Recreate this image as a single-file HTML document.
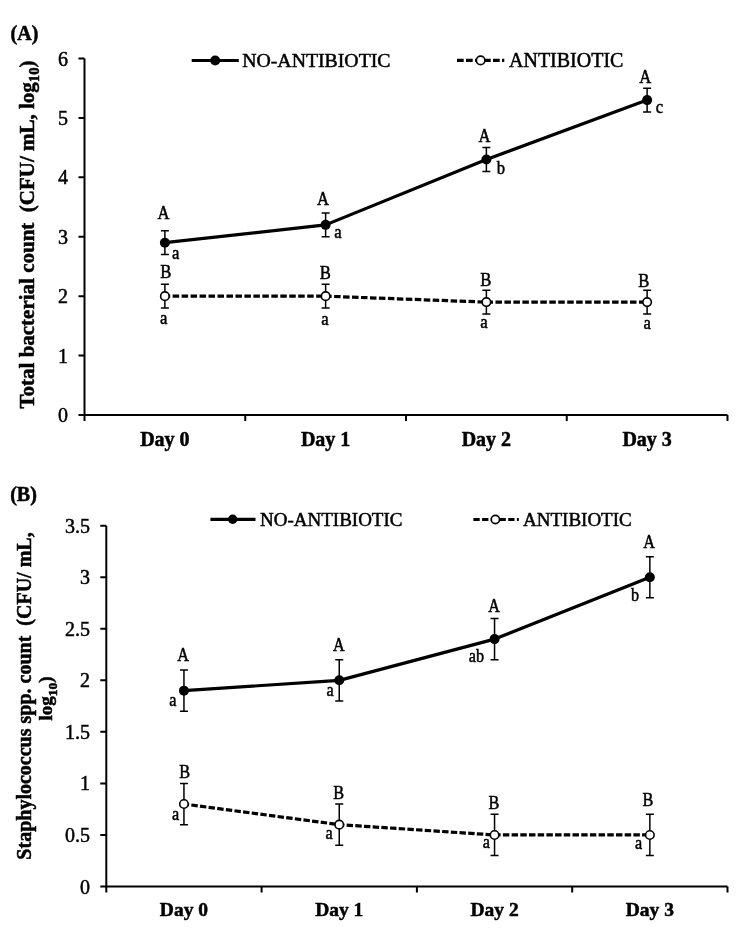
<!DOCTYPE html><html><head><meta charset="utf-8"><style>html,body{margin:0;padding:0;background:#fff;overflow:hidden;width:744px;height:945px;}svg{display:block;will-change:transform;filter:blur(0.35px);}text{font-family:"Liberation Serif",serif;fill:#000;white-space:pre;stroke:#000;stroke-width:0.5px;}</style></head><body>
<svg width="744" height="945" viewBox="0 0 744 945">
<rect width="744" height="945" fill="#fff"/>
<text x="10.6" y="39.5" font-size="20" font-weight="bold">(A)</text>
<text x="10.2" y="501.4" font-size="20" font-weight="bold">(B)</text>
<path d="M84.5 58.5V415H727.5" fill="none" stroke="#000" stroke-width="2"/>
<path d="M78.5 415H84.5M78.5 355.58H84.5M78.5 296.17H84.5M78.5 236.75H84.5M78.5 177.33H84.5M78.5 117.92H84.5M78.5 58.5H84.5M84.5 415V421M245.25 415V421M406 415V421M566.75 415V421M727.5 415V421" stroke="#000" stroke-width="2" fill="none"/>
<text x="68" y="422" text-anchor="end" font-size="20">0</text>
<text x="68" y="362.58" text-anchor="end" font-size="20">1</text>
<text x="68" y="303.17" text-anchor="end" font-size="20">2</text>
<text x="68" y="243.75" text-anchor="end" font-size="20">3</text>
<text x="68" y="184.33" text-anchor="end" font-size="20">4</text>
<text x="68" y="124.92" text-anchor="end" font-size="20">5</text>
<text x="68" y="65.5" text-anchor="end" font-size="20">6</text>
<text x="164.88" y="446.3" text-anchor="middle" font-size="20" font-weight="bold">Day 0</text>
<text x="325.62" y="446.3" text-anchor="middle" font-size="20" font-weight="bold">Day 1</text>
<text x="486.38" y="446.3" text-anchor="middle" font-size="20" font-weight="bold">Day 2</text>
<text x="647.12" y="446.3" text-anchor="middle" font-size="20" font-weight="bold">Day 3</text>
<polyline points="164.88,242.69 325.62,224.87 486.38,159.51 647.12,100.09" fill="none" stroke="#000" stroke-width="3.2" stroke-linejoin="round"/>
<path d="M164.88 230.81V254.58M160.88 230.81H168.88M160.88 254.58H168.88M325.62 212.98V236.75M321.62 212.98H329.62M321.62 236.75H329.62M486.38 147.62V171.39M482.38 147.62H490.38M482.38 171.39H490.38M647.12 88.21V111.98M643.12 88.21H651.12M643.12 111.98H651.12" stroke="#000" stroke-width="1.5" fill="none"/>
<circle cx="164.88" cy="242.69" r="5" fill="#000"/>
<circle cx="325.62" cy="224.87" r="5" fill="#000"/>
<circle cx="486.38" cy="159.51" r="5" fill="#000"/>
<circle cx="647.12" cy="100.09" r="5" fill="#000"/>
<polyline points="164.88,296.17 325.62,296.17 486.38,302.11 647.12,302.11" fill="none" stroke="#000" stroke-width="3.2" stroke-dasharray="6.5 2.47" stroke-dashoffset="1.2" stroke-linecap="butt"/>
<path d="M164.88 284.28V308.05M160.88 284.28H168.88M160.88 308.05H168.88M325.62 284.28V308.05M321.62 284.28H329.62M321.62 308.05H329.62M486.38 290.23V313.99M482.38 290.23H490.38M482.38 313.99H490.38M647.12 290.23V313.99M643.12 290.23H651.12M643.12 313.99H651.12" stroke="#000" stroke-width="1.5" fill="none"/>
<circle cx="164.88" cy="296.17" r="4.25" fill="#fff" stroke="#000" stroke-width="1.6"/>
<circle cx="325.62" cy="296.17" r="4.25" fill="#fff" stroke="#000" stroke-width="1.6"/>
<circle cx="486.38" cy="302.11" r="4.25" fill="#fff" stroke="#000" stroke-width="1.6"/>
<circle cx="647.12" cy="302.11" r="4.25" fill="#fff" stroke="#000" stroke-width="1.6"/>
<text transform="translate(163.5,218.5) scale(0.9,1)" text-anchor="middle" font-size="18.5">A</text>
<text transform="translate(175.7,258.6) scale(0.9,1)" text-anchor="middle" font-size="18.5">a</text>
<text transform="translate(165.7,278) scale(0.9,1)" text-anchor="middle" font-size="18.5">B</text>
<text transform="translate(163.7,324) scale(0.9,1)" text-anchor="middle" font-size="18.5">a</text>
<text transform="translate(323,205.3) scale(0.9,1)" text-anchor="middle" font-size="18.5">A</text>
<text transform="translate(337.9,238.4) scale(0.9,1)" text-anchor="middle" font-size="18.5">a</text>
<text transform="translate(325.2,279) scale(0.9,1)" text-anchor="middle" font-size="18.5">B</text>
<text transform="translate(325,325.3) scale(0.9,1)" text-anchor="middle" font-size="18.5">a</text>
<text transform="translate(484.5,142.3) scale(0.9,1)" text-anchor="middle" font-size="18.5">A</text>
<text transform="translate(501,174.3) scale(0.9,1)" text-anchor="middle" font-size="18.5">b</text>
<text transform="translate(485.9,286) scale(0.9,1)" text-anchor="middle" font-size="18.5">B</text>
<text transform="translate(484,328.3) scale(0.9,1)" text-anchor="middle" font-size="18.5">a</text>
<text transform="translate(645.2,82.7) scale(0.9,1)" text-anchor="middle" font-size="18.5">A</text>
<text transform="translate(659.5,113.1) scale(0.9,1)" text-anchor="middle" font-size="18.5">c</text>
<text transform="translate(643.8,286.6) scale(0.9,1)" text-anchor="middle" font-size="18.5">B</text>
<text transform="translate(647.3,329.4) scale(0.9,1)" text-anchor="middle" font-size="18.5">a</text>
<path d="M106.3 525.7V886.5H727.5" fill="none" stroke="#000" stroke-width="2"/>
<path d="M100.3 886.5H106.3M100.3 834.96H106.3M100.3 783.41H106.3M100.3 731.87H106.3M100.3 680.33H106.3M100.3 628.79H106.3M100.3 577.24H106.3M100.3 525.7H106.3M106.3 886.5V892.5M261.6 886.5V892.5M416.9 886.5V892.5M572.2 886.5V892.5M727.5 886.5V892.5" stroke="#000" stroke-width="2" fill="none"/>
<text x="90" y="893.5" text-anchor="end" font-size="20">0</text>
<text x="90" y="841.96" text-anchor="end" font-size="20">0.5</text>
<text x="90" y="790.41" text-anchor="end" font-size="20">1</text>
<text x="90" y="738.87" text-anchor="end" font-size="20">1.5</text>
<text x="90" y="687.33" text-anchor="end" font-size="20">2</text>
<text x="90" y="635.79" text-anchor="end" font-size="20">2.5</text>
<text x="90" y="584.24" text-anchor="end" font-size="20">3</text>
<text x="90" y="532.7" text-anchor="end" font-size="20">3.5</text>
<text x="183.95" y="916.4" text-anchor="middle" font-size="19.5" font-weight="bold">Day 0</text>
<text x="339.25" y="916.4" text-anchor="middle" font-size="19.5" font-weight="bold">Day 1</text>
<text x="494.55" y="916.4" text-anchor="middle" font-size="19.5" font-weight="bold">Day 2</text>
<text x="649.85" y="916.4" text-anchor="middle" font-size="19.5" font-weight="bold">Day 3</text>
<polyline points="183.95,690.64 339.25,680.33 494.55,639.09 649.85,577.24" fill="none" stroke="#000" stroke-width="3.2" stroke-linejoin="round"/>
<path d="M183.95 670.02V711.25M179.95 670.02H187.95M179.95 711.25H187.95M339.25 659.71V700.95M335.25 659.71H343.25M335.25 700.95H343.25M494.55 618.48V659.71M490.55 618.48H498.55M490.55 659.71H498.55M649.85 556.63V597.86M645.85 556.63H653.85M645.85 597.86H653.85" stroke="#000" stroke-width="1.5" fill="none"/>
<circle cx="183.95" cy="690.64" r="5" fill="#000"/>
<circle cx="339.25" cy="680.33" r="5" fill="#000"/>
<circle cx="494.55" cy="639.09" r="5" fill="#000"/>
<circle cx="649.85" cy="577.24" r="5" fill="#000"/>
<polyline points="183.95,804.03 339.25,824.65 494.55,834.96 649.85,834.96" fill="none" stroke="#000" stroke-width="3.2" stroke-dasharray="6.45 2.25" stroke-dashoffset="1.25" stroke-linecap="butt"/>
<path d="M183.95 783.41V824.65M179.95 783.41H187.95M179.95 824.65H187.95M339.25 804.03V845.27M335.25 804.03H343.25M335.25 845.27H343.25M494.55 814.34V855.57M490.55 814.34H498.55M490.55 855.57H498.55M649.85 814.34V855.57M645.85 814.34H653.85M645.85 855.57H653.85" stroke="#000" stroke-width="1.5" fill="none"/>
<circle cx="183.95" cy="804.03" r="4.25" fill="#fff" stroke="#000" stroke-width="1.6"/>
<circle cx="339.25" cy="824.65" r="4.25" fill="#fff" stroke="#000" stroke-width="1.6"/>
<circle cx="494.55" cy="834.96" r="4.25" fill="#fff" stroke="#000" stroke-width="1.6"/>
<circle cx="649.85" cy="834.96" r="4.25" fill="#fff" stroke="#000" stroke-width="1.6"/>
<text transform="translate(183,661.2) scale(0.9,1)" text-anchor="middle" font-size="18">A</text>
<text transform="translate(172.9,706.4) scale(0.9,1)" text-anchor="middle" font-size="18">a</text>
<text transform="translate(184.6,777.6) scale(0.9,1)" text-anchor="middle" font-size="18">B</text>
<text transform="translate(175.5,819.8) scale(0.9,1)" text-anchor="middle" font-size="18">a</text>
<text transform="translate(338.9,650.7) scale(0.9,1)" text-anchor="middle" font-size="18">A</text>
<text transform="translate(330.2,695.8) scale(0.9,1)" text-anchor="middle" font-size="18">a</text>
<text transform="translate(338.7,798.5) scale(0.9,1)" text-anchor="middle" font-size="18">B</text>
<text transform="translate(329,838.8) scale(0.9,1)" text-anchor="middle" font-size="18">a</text>
<text transform="translate(494.2,611.6) scale(0.9,1)" text-anchor="middle" font-size="18">A</text>
<text transform="translate(476.5,662.2) scale(0.9,1)" text-anchor="middle" font-size="18">ab</text>
<text transform="translate(494,809) scale(0.9,1)" text-anchor="middle" font-size="18">B</text>
<text transform="translate(486.3,848.3) scale(0.9,1)" text-anchor="middle" font-size="18">a</text>
<text transform="translate(649,548.1) scale(0.9,1)" text-anchor="middle" font-size="18">A</text>
<text transform="translate(635,600.6) scale(0.9,1)" text-anchor="middle" font-size="18">b</text>
<text transform="translate(647.9,806.3) scale(0.9,1)" text-anchor="middle" font-size="18">B</text>
<text transform="translate(638.5,849.3) scale(0.9,1)" text-anchor="middle" font-size="18">a</text>
<path d="M191.7 60.5H238.8" stroke="#000" stroke-width="3.2"/><circle cx="215.2" cy="60.5" r="5" fill="#000"/>
<text x="242.2" y="66.5" font-size="19.8">NO-ANTIBIOTIC</text>
<path d="M457 60.4H504.3" stroke="#000" stroke-width="3.2" stroke-dasharray="6.7 2.3"/><circle cx="480.6" cy="60.4" r="4.25" fill="#fff" stroke="#000" stroke-width="1.6"/>
<text x="509" y="66.5" font-size="20">ANTIBIOTIC</text>
<path d="M210.4 519.3H255.5" stroke="#000" stroke-width="3.2"/><circle cx="232.7" cy="519.3" r="4.7" fill="#000"/>
<text x="260" y="525.6" font-size="19">NO-ANTIBIOTIC</text>
<path d="M473.4 519.5H518.8" stroke="#000" stroke-width="3.2" stroke-dasharray="6.3 2.4"/><circle cx="495.4" cy="519.5" r="4.1" fill="#fff" stroke="#000" stroke-width="1.6"/>
<text x="523" y="525.6" font-size="19">ANTIBIOTIC</text>
<text transform="translate(33.5,234.5) rotate(-90) scale(1.05,1)" text-anchor="middle" font-size="20" font-weight="bold">Total bacterial count  (CFU/ mL, log<tspan font-size="14" dy="5">10</tspan><tspan dy="-5">)</tspan></text>
<text transform="translate(31,696) rotate(-90)" text-anchor="middle" font-size="20" font-weight="bold">Staphylococcus spp. count  (CFU/ mL,</text>
<text transform="translate(52.4,698.5) rotate(-90)" text-anchor="middle" font-size="19" font-weight="bold">log<tspan font-size="13.5" dy="4.5">10</tspan><tspan dy="-4.5">)</tspan></text>
</svg></body></html>
